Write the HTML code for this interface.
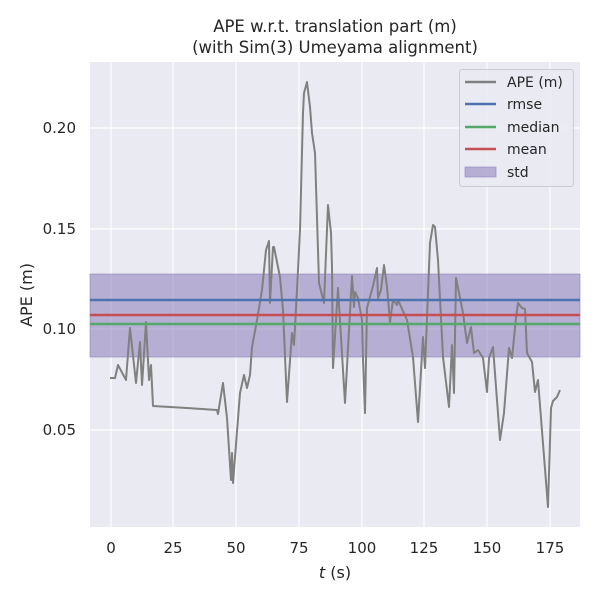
<!DOCTYPE html>
<html><head><style>body{margin:0;background:#fff}svg{display:block}</style></head><body>
<svg width="600" height="600" xmlns="http://www.w3.org/2000/svg" font-family="'DejaVu Sans','Liberation Sans',sans-serif">
<rect x="90" y="62" width="490" height="465" fill="#eaeaf2"/>
<g stroke="#fff" stroke-width="1.2">
<line x1="111" y1="62" x2="111" y2="527"/><line x1="173" y1="62" x2="173" y2="527"/><line x1="236" y1="62" x2="236" y2="527"/><line x1="299" y1="62" x2="299" y2="527"/><line x1="362" y1="62" x2="362" y2="527"/><line x1="424" y1="62" x2="424" y2="527"/><line x1="487" y1="62" x2="487" y2="527"/><line x1="550" y1="62" x2="550" y2="527"/>
<line x1="90" y1="128" x2="580" y2="128"/><line x1="90" y1="229" x2="580" y2="229"/><line x1="90" y1="329" x2="580" y2="329"/><line x1="90" y1="430" x2="580" y2="430"/>
</g>
<rect x="90" y="274" width="490" height="83" fill="#8172b3" fill-opacity="0.5" stroke="#8172b3" stroke-opacity="0.5"/>
<polyline fill="none" stroke="#808080" stroke-width="2" stroke-linejoin="round" points="110,378 115,378 118,365 126,380 130,328 136,383 140,342 142,385 143,370 146,322 149,380 151,365 153,406 187,408 217,410 218,414 223,383 227,418 231,480 232,453 233,483 240,393 244,375 247,388 250,375 252,347 257,320 262,290 266,250 269,241 270,303 273,247 274,247 280,277 283,310 287,402 292,333 294,345 297,290 300,230 303,113 304,93 307,82 310,107 312,133 315,153 319,283 324,303 328,205 331,233 332,267 333,368 338,288 345,403 352,276 354,307 355,292 358,298 362,320 363,360 365,413 367,308 373,286 377,268 378,298 381,290 384,265 387,287 390,322 393,300 397,305 398,300 407,320 413,357 418,422 423,337 425,368 430,243 433,225 435,227 438,260 443,357 449,407 452,345 454,393 456,278 463,313 467,343 471,327 474,353 478,350 483,358 487,392 489,358 493,347 500,440 504,413 509,348 512,358 516,318 518,303 522,308 525,309 527,353 532,362 535,392 538,380 548,507 551,408 553,401 557,397 560,390"/>
<line x1="90" y1="300" x2="580" y2="300" stroke="#4c72b0" stroke-width="2.5"/>
<line x1="90" y1="315" x2="580" y2="315" stroke="#c44e52" stroke-width="2.5"/>
<line x1="90" y1="324" x2="580" y2="324" stroke="#55a868" stroke-width="2.5"/>
<rect x="459.5" y="69.5" width="114" height="117" rx="3" fill="#eaeaf2" fill-opacity="0.8" stroke="#ccc"/>
<g stroke-width="2.5"><line x1="465" y1="82" x2="496" y2="82" stroke="#808080"/><line x1="465" y1="104" x2="496" y2="104" stroke="#4c72b0"/><line x1="465" y1="127" x2="496" y2="127" stroke="#55a868"/><line x1="465" y1="149" x2="496" y2="149" stroke="#c44e52"/></g>
<rect x="465" y="167" width="31" height="10" fill="#8172b3" fill-opacity="0.5" stroke="#8172b3" stroke-opacity="0.5"/>
<g font-size="14" fill="#262626">
<text x="507" y="87">APE (m)</text><text x="507" y="109">rmse</text><text x="507" y="132">median</text><text x="507" y="154">mean</text><text x="507" y="177">std</text>
<text x="335" y="32" text-anchor="middle" font-size="16.5">APE w.r.t. translation part (m)</text>
<text x="335" y="53" text-anchor="middle" font-size="16.5">(with Sim(3) Umeyama alignment)</text>
<g text-anchor="end" font-size="15"><text x="76" y="133">0.20</text><text x="76" y="234">0.15</text><text x="76" y="334">0.10</text><text x="76" y="435">0.05</text></g>
<g text-anchor="middle" font-size="15"><text x="111" y="553">0</text><text x="173" y="553">25</text><text x="236" y="553">50</text><text x="299" y="553">75</text><text x="362" y="553">100</text><text x="424" y="553">125</text><text x="487" y="553">150</text><text x="550" y="553">175</text></g>
<text x="335" y="578" text-anchor="middle" font-size="16"><tspan font-style="italic">t</tspan> (s)</text>
<text transform="translate(32,295) rotate(-90)" text-anchor="middle" font-size="16">APE (m)</text>
</g>
</svg>
</body></html>
